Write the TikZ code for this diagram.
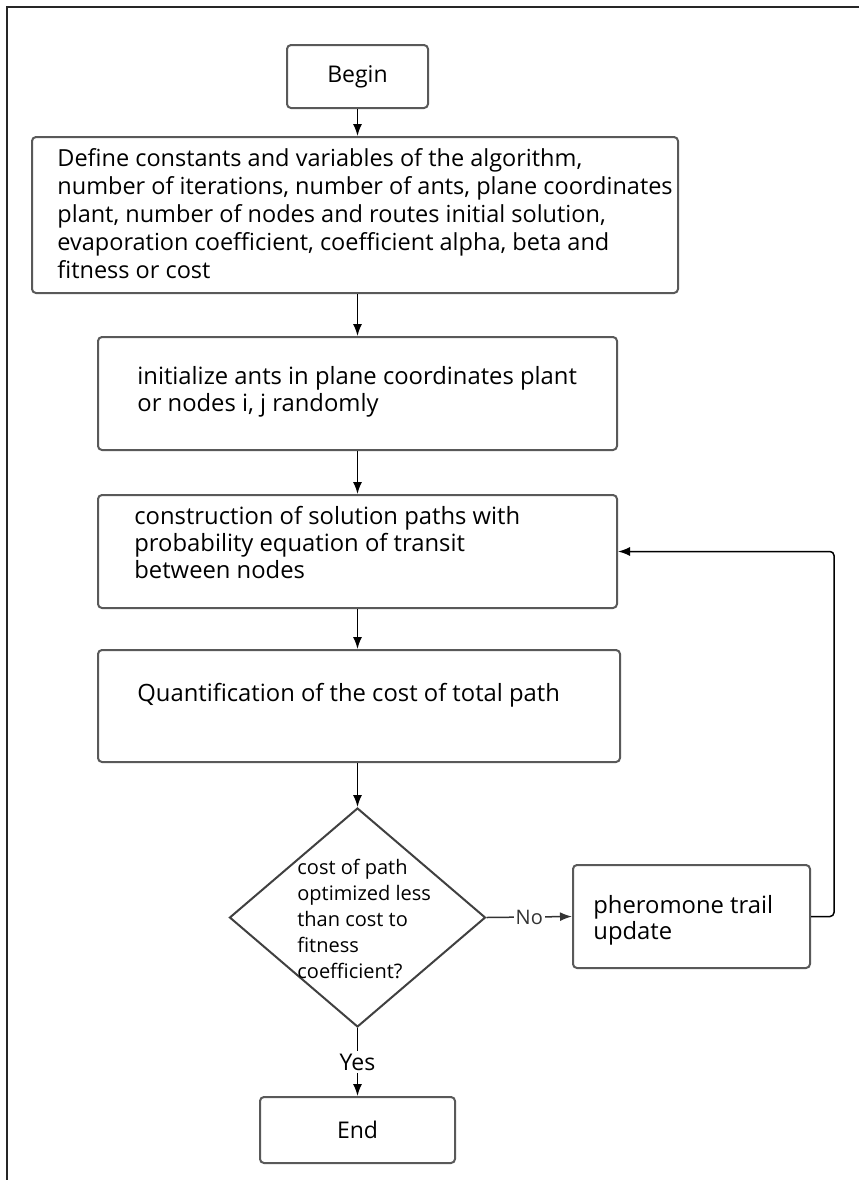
\documentclass[tikz,border=0pt]{standalone}
\usepackage{fontspec}
\setmainfont{Open Sans}
\usetikzlibrary{shapes.geometric,arrows.meta}

\begin{document}
\begin{tikzpicture}[>={Latex[length=6pt,width=4.5pt]},x=0.5pt,y=-0.5pt,font=\fontsize{11.9}{13.5}\selectfont]
\tikzstyle{flowbox}=[draw=black!65,line width=1pt,rounded corners=2pt,inner sep=0pt]%
\tikzstyle{flowtext}=[align=left,inner sep=0pt,anchor=base west]%
\tikzstyle{link}=[line width=0.75pt,->]%
\useasboundingbox (0,0) rectangle (859,1180);
% frame
\draw[line width=1pt,black!85] (859,7) -- (7,7) -- (7,1180);
% boxes (text nodes sit on the baseline of their last line)
\node[flowbox,minimum width=70.5pt,minimum height=31.5pt,font=\fontsize{11.5}{13.5}\selectfont] (begin) at (357.5,76.5) {Begin};
\node[flowbox,minimum width=323pt,minimum height=78pt] (define) at (355,215) {};
\node[flowtext,font=\fontsize{11.75}{14}\selectfont] (definetext) at (57,278) {Define constants and variables of the algorithm,\\number of iterations, number of ants, plane coordinates\\plant, number of nodes and routes initial solution,\\evaporation coefficient, coefficient alpha, beta and\\fitness or cost};
\node[flowbox,minimum width=259.5pt,minimum height=56.5pt] (init) at (357.5,393.5) {};
\node[flowtext] (inittext) at (137,411) {initialize ants in plane coordinates plant\\or nodes i, j randomly};
\node[flowbox,minimum width=259.5pt,minimum height=56.5pt] (constr) at (357.5,551.5) {};
\node[flowtext] (constrtext) at (134,578) {construction of solution paths with\\probability equation of transit\\between nodes};
\node[flowbox,minimum width=261pt,minimum height=56pt] (quant) at (359,706) {};
\node[flowtext] (quanttext) at (137,701) {Quantification of the cost of total path};
% decision
\node[draw=black!75,line width=1pt,shape=diamond,minimum width=128pt,minimum height=109.5pt,inner sep=0pt] (test) at (357.5,917.5) {};
\node[flowtext,font=\fontsize{10}{13}\selectfont] (testtext) at (297,978) {cost of path\\optimized less\\than cost to\\fitness\\coefficient?};
\node[flowbox,minimum width=118.5pt,minimum height=51.5pt] (pher) at (691.5,916.5) {};
\node[flowtext,font=\fontsize{11.9}{13}\selectfont] (phertext) at (593,939) {pheromone trail\\update};
\node[flowbox,minimum width=97.5pt,minimum height=33pt,font=\fontsize{11.5}{13.5}\selectfont] (end) at (357.5,1130) {End};
% arrows
\draw[link] (begin.south) -- (begin.south |- define.north);
\draw[link] (begin |- define.south) -- (begin |- init.north);
\draw[link] (begin |- init.south) -- (begin |- constr.north);
\draw[link] (begin |- constr.south) -- (begin |- quant.north);
\draw[link] (begin |- quant.south) -- (test.north);
\draw[link,black!80] (test.east) -- node[fill=white,inner sep=1pt,font=\fontsize{10}{12}\selectfont]{No} (pher.west);
\draw[link,rounded corners=2pt] (pher.east) -- ++(23,0) |- (constr.east);
\draw[link] (test.south) -- node[fill=white,inner sep=1.5pt,font=\fontsize{11.5}{13.5}\selectfont]{Yes} (end.north);
\end{tikzpicture}
\end{document}
